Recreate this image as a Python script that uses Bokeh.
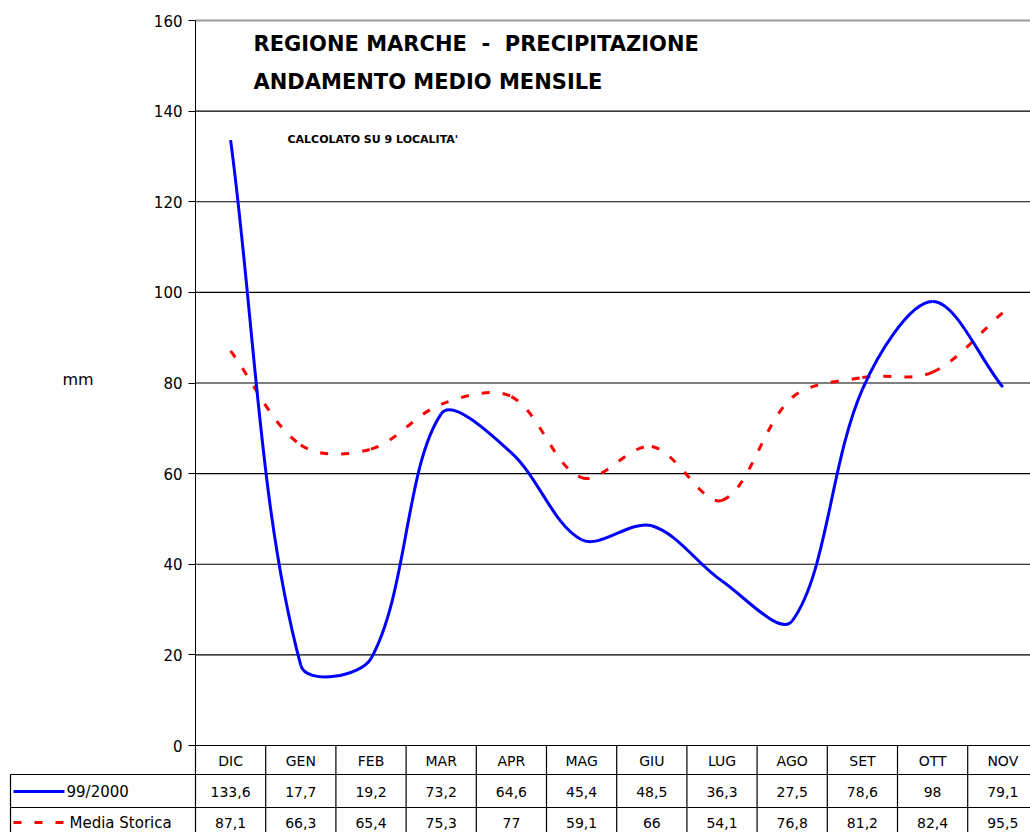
import numpy as np
from bokeh.plotting import figure
from bokeh.models import FixedTicker, ColumnDataSource, Label
from bokeh.core.properties import value
from bokeh.embed import file_html
from bokeh.resources import INLINE

# ---------------- data ----------------
months = ["DIC", "GEN", "FEB", "MAR", "APR", "MAG", "GIU", "LUG", "AGO", "SET", "OTT", "NOV"]
serie_9900 = [133.6, 17.7, 19.2, 73.2, 64.6, 45.4, 48.5, 36.3, 27.5, 78.6, 98, 79.1]
media_storica = [87.1, 66.3, 65.4, 75.3, 77, 59.1, 66, 54.1, 76.8, 81.2, 82.4, 95.5]
series_names = ["99/2000", "Media Storica"]
y_ticks = [0, 20, 40, 60, 80, 100, 120, 140, 160]
title1 = "REGIONE MARCHE\u00a0\u00a0-\u00a0\u00a0PRECIPITAZIONE"
title2 = "ANDAMENTO MEDIO MENSILE"
note = "CALCOLATO SU 9 LOCALITA'"
y_label = "mm"

# ---------------- layout helpers (reference pixel -> data) ----------------
W, H = 1030, 832
OX, OY = 0, 0
COL_W = 70.2
PLOT_LEFT = 195
Y0_PX = 745
PX_PER_MM = (745 - 20) / 160.0
FONT = "DejaVu Sans"


def X(px):
    return (px - PLOT_LEFT) / COL_W - 0.5


def Y(py):
    return (Y0_PX - py) / PX_PER_MM


x_start, x_end = X(OX), X(OX + W)
y_start, y_end = Y(OY + H), Y(OY)

p = figure(width=W, height=H, x_range=(x_start, x_end), y_range=(y_start, y_end),
           x_axis_type=None, toolbar_location=None, output_backend="svg",
           min_border=0, outline_line_color=None)
p.grid.visible = False
p.background_fill_color = "white"
p.border_fill_color = "white"

ax = p.yaxis[0]
ax.fixed_location = -0.5
ax.ticker = FixedTicker(ticks=y_ticks)
ax.bounds = (y_ticks[0], y_ticks[-1])
ax.major_tick_out = 7
ax.major_tick_in = 0
ax.minor_tick_out = 0
ax.minor_tick_in = 0
ax.axis_line_color = "black"
ax.axis_line_width = 1
ax.major_tick_line_color = "black"
ax.major_label_text_font = FONT
ax.major_label_text_font_size = "15px"
ax.major_label_text_color = "black"
ax.major_label_standoff = 6

# grid lines
grid_vals = y_ticks[1:-1]
p.segment(x0=[-0.5] * len(grid_vals), y0=grid_vals, x1=[x_end] * len(grid_vals), y1=grid_vals,
          line_color="black", line_width=1.2)
p.segment(x0=[-0.5], y0=[y_ticks[-1]], x1=[x_end], y1=[y_ticks[-1]],
          line_color="#9a9a9a", line_width=2)


# ---------------- smoothed curves (Excel-like bezier) ----------------
def excel_bezier(vals, F=1.0 / 3.0):
    n = len(vals)
    P = np.array([[i * COL_W, v * PX_PER_MM] for i, v in enumerate(vals)], dtype=float)
    out = {k: [] for k in ("x0", "y0", "x1", "y1", "cx0", "cy0", "cx1", "cy1")}
    for i in range(n - 1):
        p0 = P[i - 1] if i > 0 else P[i]
        p1, p2 = P[i], P[i + 1]
        p3 = P[i + 2] if i + 2 < n else P[i + 1]
        d01 = np.linalg.norm(p1 - p0)
        d12 = np.linalg.norm(p2 - p1)
        d23 = np.linalg.norm(p3 - p2)
        c1 = p1 + (p2 - p0) * F * d12 / (d01 + d12)
        c2 = p2 - (p3 - p1) * F * d12 / (d12 + d23)
        for key, pt in (("0", p1), ("1", p2)):
            out["x" + key].append(pt[0] / COL_W)
            out["y" + key].append(pt[1] / PX_PER_MM)
        out["cx0"].append(c1[0] / COL_W)
        out["cy0"].append(c1[1] / PX_PER_MM)
        out["cx1"].append(c2[0] / COL_W)
        out["cy1"].append(c2[1] / PX_PER_MM)
    return ColumnDataSource(out)


RED_DASH = "8 13"
p.bezier(x0="x0", y0="y0", x1="x1", y1="y1", cx0="cx0", cy0="cy0", cx1="cx1", cy1="cy1",
         source=excel_bezier(media_storica), line_color="#ff0000", line_width=3,
         line_dash=RED_DASH)
p.bezier(x0="x0", y0="y0", x1="x1", y1="y1", cx0="cx0", cy0="cy0", cx1="cx1", cy1="cy1",
         source=excel_bezier(serie_9900), line_color="#0000ff", line_width=3)

# ---------------- data table ----------------
n = len(months)
bottom = Y(OY + H + 5)
vx = [i - 0.5 for i in range(n + 1)]
p.segment(x0=vx, y0=[0] * len(vx), x1=vx, y1=[bottom] * len(vx), line_color="black", line_width=1.2)
p.segment(x0=[-0.5], y0=[0], x1=[x_end], y1=[0], line_color="black", line_width=1.2)
row_lines = [Y(774), Y(807)]
p.segment(x0=[X(10)] * 2, y0=row_lines, x1=[x_end] * 2, y1=row_lines, line_color="black", line_width=1.2)
p.segment(x0=[X(10)], y0=[Y(774)], x1=[X(10)], y1=[bottom], line_color="black", line_width=1.2)


def fmt(v):
    return f"{v:g}".replace(".", ",")


xs = list(range(n))
p.text(x=xs, y=[Y(760)] * n, text=months, text_align="center", text_baseline="middle",
       text_font=value(FONT), text_font_size="14px", text_color="black")
p.text(x=xs, y=[Y(791)] * n, text=[fmt(v) for v in serie_9900], text_align="center",
       text_baseline="middle", text_font=value(FONT), text_font_size="14px", text_color="black")
p.text(x=xs, y=[Y(822)] * n, text=[fmt(v) for v in media_storica], text_align="center",
       text_baseline="middle", text_font=value(FONT), text_font_size="14px", text_color="black")

# legend keys inside table
p.line(x=[X(13), X(64)], y=[Y(791)] * 2, line_color="#0000ff", line_width=3)
p.line(x=[X(13), X(63)], y=[Y(822)] * 2, line_color="#ff0000", line_width=3, line_dash=RED_DASH)
p.text(x=[X(66), X(69)], y=[Y(791), Y(822)], text=series_names, text_align="left",
       text_baseline="middle", text_font=value(FONT), text_font_size="15px", text_color="black")

# ---------------- titles ----------------
p.add_layout(Label(x=X(253), y=Y(43), text=title1, text_font=FONT, text_font_size="21px",
                   text_font_style="bold", text_baseline="middle", text_color="black"))
p.add_layout(Label(x=X(253), y=Y(81), text=title2, text_font=FONT, text_font_size="21px",
                   text_font_style="bold", text_baseline="middle", text_color="black"))
p.add_layout(Label(x=X(287), y=Y(139), text=note, text_font=FONT, text_font_size="11px",
                   text_font_style="bold", text_baseline="middle", text_color="black"))
p.add_layout(Label(x=X(62), y=Y(379), text=y_label, text_font=FONT, text_font_size="16px",
                   text_baseline="middle", text_color="black"))

open("out.html", "w").write(file_html(p, INLINE))
